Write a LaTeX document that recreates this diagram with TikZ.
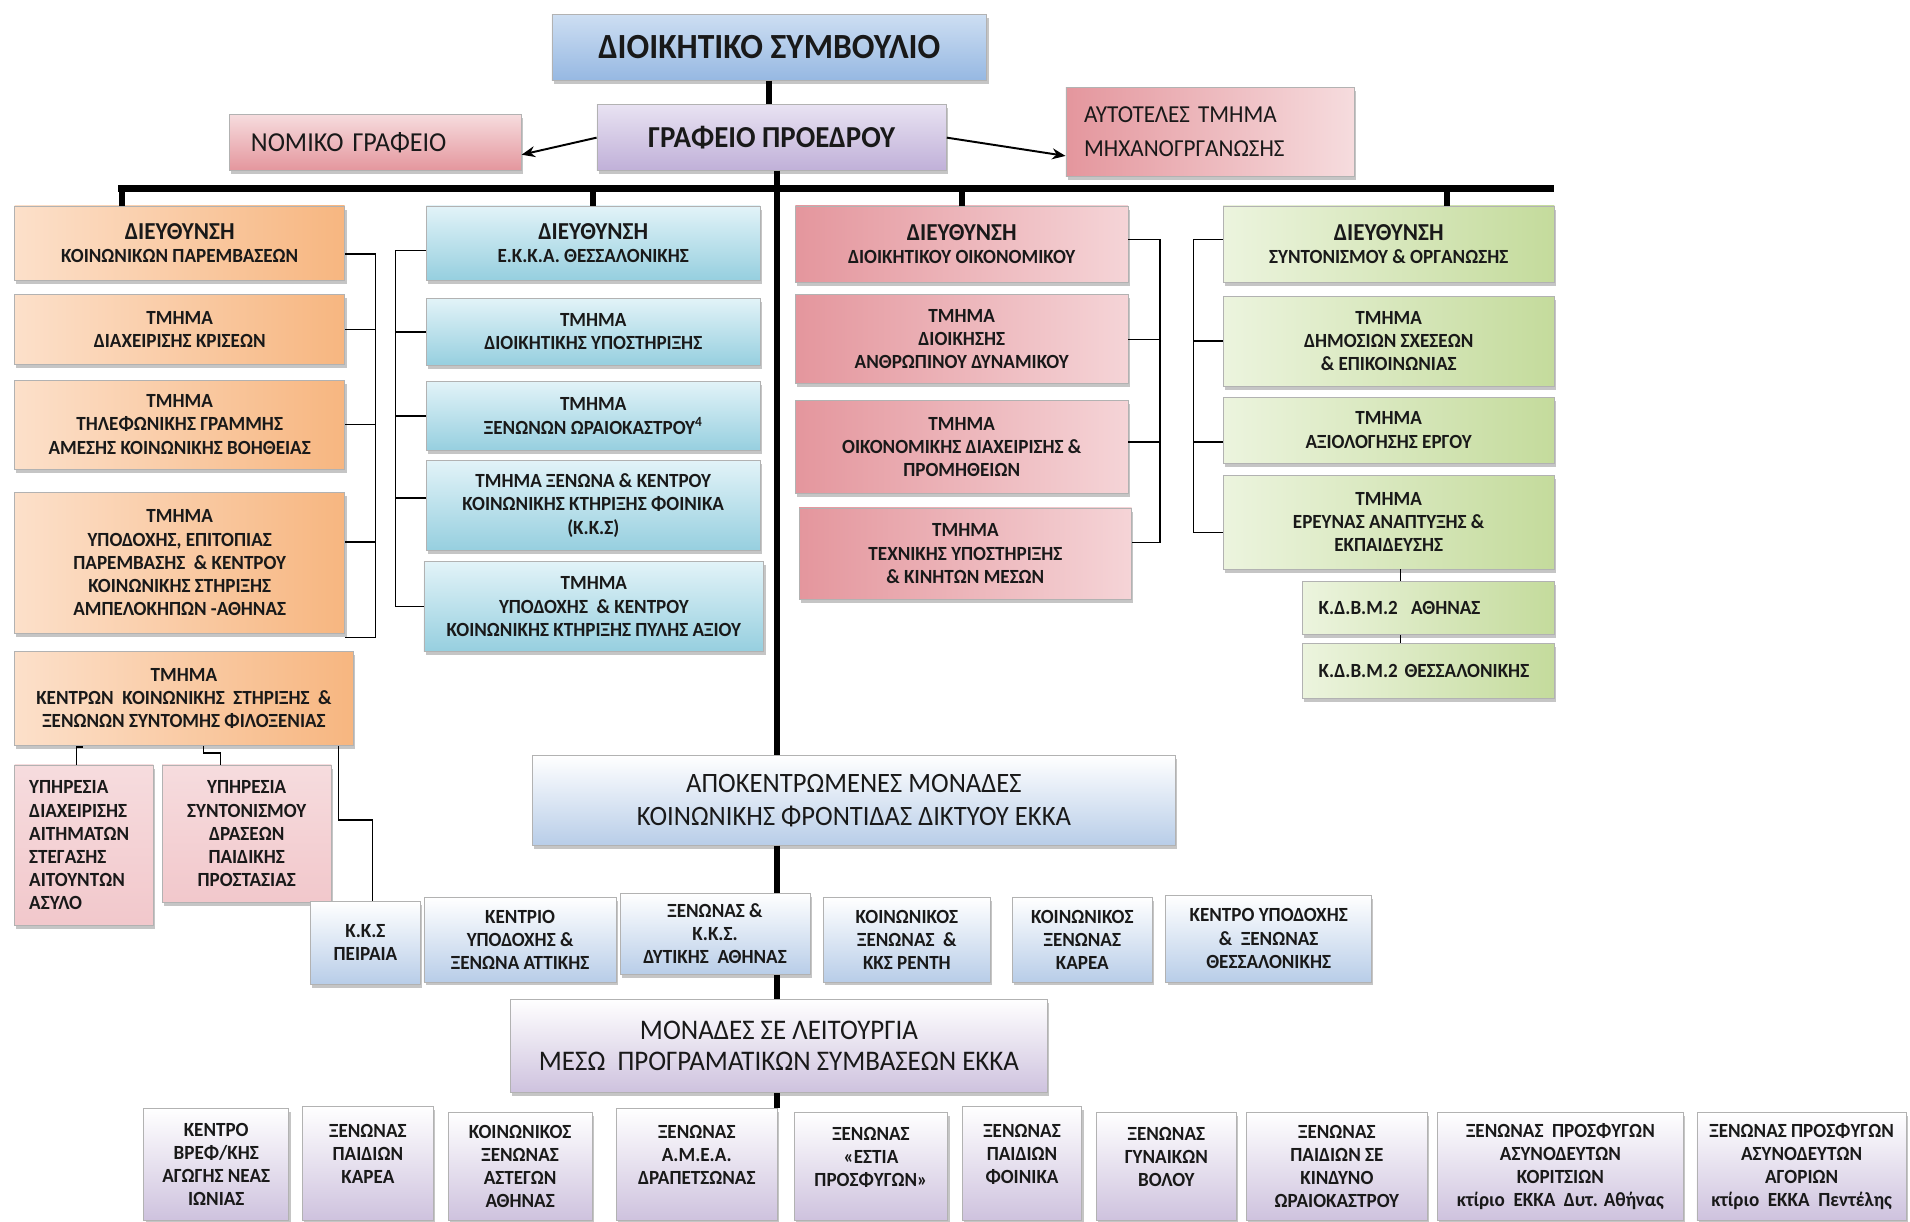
\documentclass[tikz,border=0pt]{standalone}
\usepackage{fontspec}
\setmainfont{Carlito}[FakeStretch=0.95]
\usetikzlibrary{shapes,shadows,arrows.meta}
\definecolor{ekka_sky}{RGB}{205,222,242}
\definecolor{ekka_steel}{RGB}{150,184,226}
\definecolor{ekka_mist}{RGB}{232,226,242}
\definecolor{ekka_lilac}{RGB}{192,176,216}
\definecolor{ekka_petal}{RGB}{246,220,222}
\definecolor{ekka_rose}{RGB}{228,150,157}
\definecolor{ekka_peach}{RGB}{252,224,202}
\definecolor{ekka_orange}{RGB}{247,182,128}
\definecolor{ekka_ice}{RGB}{226,243,248}
\definecolor{ekka_cyan}{RGB}{150,207,223}
\definecolor{ekka_blush}{RGB}{245,212,215}
\definecolor{ekka_mint}{RGB}{236,244,222}
\definecolor{ekka_olive}{RGB}{196,219,156}
\definecolor{ekka_pale}{RGB}{184,205,232}
\definecolor{ekka_heather}{RGB}{206,194,222}
\tikzstyle{orgbox}=[rectangle,draw=black!30,line width=0.5pt,align=center,inner sep=2pt,
  text=black!90,font=\bfseries\fontsize{16.5}{19}\selectfont,
  drop shadow={shadow xshift=1.5pt,shadow yshift=-3pt,fill=black!45}]
\tikzstyle{ob}=[orgbox,left color=ekka_peach,right color=ekka_orange,minimum width=271pt]
\tikzstyle{bb}=[orgbox,top color=ekka_ice,bottom color=ekka_cyan,minimum width=274pt]
\tikzstyle{rb}=[orgbox,left color=ekka_rose,right color=ekka_blush,minimum width=273pt]
\tikzstyle{gb}=[orgbox,left color=ekka_mint,right color=ekka_olive,minimum width=272pt]
\tikzstyle{pb}=[orgbox,top color=ekka_petal,bottom color=ekka_blush!80!ekka_rose]
\tikzstyle{sb}=[orgbox,top color=white,bottom color=ekka_pale]
\tikzstyle{lb}=[orgbox,top color=white,bottom color=ekka_heather]
\tikzstyle{lbtop}=[lb,text depth=16pt]
\tikzstyle{trunk}=[line width=5pt]
\tikzstyle{link}=[line width=1.2pt]
\tikzstyle{arr}=[line width=1.6pt,-{Stealth[length=11pt,width=9pt]}]
\newcommand{\dirline}[1]{{\fontsize{20}{22}\selectfont #1}}

\begin{document}
\begin{tikzpicture}[x=1pt,y=-1pt]
    \useasboundingbox (0,0) rectangle (1568,1003);
    % top of the chart
    \node [style=orgbox,top color=ekka_sky,bottom color=ekka_steel,minimum width=357pt,minimum height=54pt,
      font=\bfseries\fontsize{29}{32}\selectfont] (board) at (631.5,39) {ΔΙΟΙΚΗΤΙΚΟ ΣΥΜΒΟΥΛΙΟ};
    \node [style=orgbox,top color=ekka_mist,bottom color=ekka_lilac,minimum width=287pt,minimum height=54pt,
      font=\bfseries\fontsize{25}{28}\selectfont] (pres) at (633.5,113) {ΓΡΑΦΕΙΟ ΠΡΟΕΔΡΟΥ};
    \node [style=orgbox,top color=ekka_petal,bottom color=ekka_rose,minimum height=46pt,text width=204pt,
      inner xsep=18pt,align=left,font=\fontsize{22.5}{26}\selectfont] (nom) at (308,117) {ΝΟΜΙΚΟ ΓΡΑΦΕΙΟ};
    \node [style=orgbox,left color=ekka_rose,right color=ekka_petal,minimum height=73pt,text width=207pt,
      inner xsep=15pt,align=left,font=\fontsize{20}{28}\selectfont] (mhx) at (993.5,108)
      {ΑΥΤΟΤΕΛΕΣ ΤΜΗΜΑ\\ΜΗΧΑΝΟΓΡΓΑΝΩΣΗΣ};

    % directorate of social interventions
    \node [style=ob,minimum height=61pt] (kp) at (147.5,199.5)
      {\dirline{ΔΙΕΥΘΥΝΣΗ}\\ΚΟΙΝΩΝΙΚΩΝ ΠΑΡΕΜΒΑΣΕΩΝ};
    \node [style=ob,minimum height=57pt] (krisi) at (147.5,270.5) {ΤΜΗΜΑ\\ΔΙΑΧΕΙΡΙΣΗΣ ΚΡΙΣΕΩΝ};
    \node [style=ob,minimum height=73pt] (tilef) at (147.5,348.5)
      {ΤΜΗΜΑ\\ΤΗΛΕΦΩΝΙΚΗΣ ΓΡΑΜΜΗΣ\\ΑΜΕΣΗΣ ΚΟΙΝΩΝΙΚΗΣ ΒΟΗΘΕΙΑΣ};
    \node [style=ob,minimum height=116pt] (ampel) at (147.5,462)
      {ΤΜΗΜΑ\\ΥΠΟΔΟΧΗΣ, ΕΠΙΤΟΠΙΑΣ\\ΠΑΡΕΜΒΑΣΗΣ\ \ \&\ ΚΕΝΤΡΟΥ\\ΚΟΙΝΩΝΙΚΗΣ ΣΤΗΡΙΞΗΣ\\ΑΜΠΕΛΟΚΗΠΩΝ -ΑΘΗΝΑΣ};
    \node [style=ob,minimum width=278pt,minimum height=77pt] (kentr) at (151,573.5)
      {ΤΜΗΜΑ\\ΚΕΝΤΡΩΝ\ \ ΚΟΙΝΩΝΙΚΗΣ\ \ ΣΤΗΡΙΞΗΣ\ \ \&\\ΞΕΝΩΝΩΝ ΣΥΝΤΟΜΗΣ ΦΙΛΟΞΕΝΙΑΣ};
    \node [style=pb,minimum width=114pt,minimum height=132pt,text width=90pt,inner xsep=12pt,align=left] (ypA) at (69,694)
      {ΥΠΗΡΕΣΙΑ\\ΔΙΑΧΕΙΡΙΣΗΣ\\ΑΙΤΗΜΑΤΩΝ\\ΣΤΕΓΑΣΗΣ\\ΑΙΤΟΥΝΤΩΝ\\ΑΣΥΛΟ};
    \node [style=pb,minimum width=139pt,minimum height=113pt] (ypB) at (202.5,684.5)
      {ΥΠΗΡΕΣΙΑ\\ΣΥΝΤΟΝΙΣΜΟΥ\\ΔΡΑΣΕΩΝ\\ΠΑΙΔΙΚΗΣ\\ΠΡΟΣΤΑΣΙΑΣ};

    % directorate of thessaloniki
    \node [style=bb,minimum height=61pt] (ekka) at (487,199.5)
      {\dirline{ΔΙΕΥΘΥΝΣΗ}\\Ε.Κ.Κ.Α. ΘΕΣΣΑΛΟΝΙΚΗΣ};
    \node [style=bb,minimum height=55pt] (dyp) at (487,272.5) {ΤΜΗΜΑ\\ΔΙΟΙΚΗΤΙΚΗΣ ΥΠΟΣΤΗΡΙΞΗΣ};
    \node [style=bb,minimum height=57pt] (wraio) at (487,341.5) {ΤΜΗΜΑ\\ΞΕΝΩΝΩΝ ΩΡΑΙΟΚΑΣΤΡΟΥ\textsuperscript{4}};
    \node [style=bb,minimum height=74pt] (foin) at (487,415)
      {ΤΜΗΜΑ ΞΕΝΩΝΑ \& ΚΕΝΤΡΟΥ\\ΚΟΙΝΩΝΙΚΗΣ ΚΤΗΡΙΞΗΣ ΦΟΙΝΙΚΑ\\(Κ.Κ.Σ)};
    \node [style=bb,minimum width=279pt,minimum height=74pt] (pyli) at (487.5,498)
      {ΤΜΗΜΑ\\ΥΠΟΔΟΧΗΣ\ \ \& ΚΕΝΤΡΟΥ\\ΚΟΙΝΩΝΙΚΗΣ ΚΤΗΡΙΞΗΣ ΠΥΛΗΣ ΑΞΙΟΥ};

    % directorate of administration and finance
    \node [style=rb,minimum height=63pt] (dioik) at (789.5,200.5)
      {\dirline{ΔΙΕΥΘΥΝΣΗ}\\ΔΙΟΙΚΗΤΙΚΟΥ ΟΙΚΟΝΟΜΙΚΟΥ};
    \node [style=rb,minimum height=73pt] (anthr) at (789.5,278.5) {ΤΜΗΜΑ\\ΔΙΟΙΚΗΣΗΣ\\ΑΝΘΡΩΠΙΝΟΥ ΔΥΝΑΜΙΚΟΥ};
    \node [style=rb,minimum height=76pt] (oik) at (789.5,367) {ΤΜΗΜΑ\\ΟΙΚΟΝΟΜΙΚΗΣ ΔΙΑΧΕΙΡΙΣΗΣ \&\\ΠΡΟΜΗΘΕΙΩΝ};
    \node [style=rb,minimum height=75pt] (tech) at (792.5,454.5) {ΤΜΗΜΑ\\ΤΕΧΝΙΚΗΣ ΥΠΟΣΤΗΡΙΞΗΣ\\\& ΚΙΝΗΤΩΝ ΜΕΣΩΝ};

    % directorate of coordination
    \node [style=gb,minimum height=63pt] (synt) at (1140,200.5)
      {\dirline{ΔΙΕΥΘΥΝΣΗ}\\ΣΥΝΤΟΝΙΣΜΟΥ \& ΟΡΓΑΝΩΣΗΣ};
    \node [style=gb,minimum height=74pt] (dimos) at (1140,280) {ΤΜΗΜΑ\\ΔΗΜΟΣΙΩΝ ΣΧΕΣΕΩΝ\\\& ΕΠΙΚΟΙΝΩΝΙΑΣ};
    \node [style=gb,minimum height=54pt] (axiol) at (1140,353) {ΤΜΗΜΑ\\ΑΞΙΟΛΟΓΗΣΗΣ ΕΡΓΟΥ};
    \node [style=gb,minimum height=77pt] (erev) at (1140,428.5) {ΤΜΗΜΑ\\ΕΡΕΥΝΑΣ ΑΝΑΠΤΥΞΗΣ \&\\ΕΚΠΑΙΔΕΥΣΗΣ};
    \node [style=gb,minimum width=207pt,minimum height=44pt,text width=180pt,inner xsep=13pt,align=left] (kdb1)
      at (1172.5,499) {Κ.Δ.Β.Μ.2\ \ ΑΘΗΝΑΣ};
    \node [style=gb,minimum width=207pt,minimum height=45pt,text width=180pt,inner xsep=13pt,align=left] (kdb2)
      at (1172.5,550.5) {Κ.Δ.Β.Μ.2 ΘΕΣΣΑΛΟΝΙΚΗΣ};

    % decentralised units
    \node [style=sb,minimum width=528pt,minimum height=74pt,font=\fontsize{23}{27}\selectfont] (apok) at (701,657)
      {ΑΠΟΚΕΝΤΡΩΜΕΝΕΣ ΜΟΝΑΔΕΣ\\ΚΟΙΝΩΝΙΚΗΣ ΦΡΟΝΤΙΔΑΣ ΔΙΚΤΥΟΥ ΕΚΚΑ};
    \node [style=sb,minimum width=90pt,minimum height=68pt] (peir) at (300,774) {Κ.Κ.Σ\\ΠΕΙΡΑΙΑ};
    \node [style=sb,minimum width=158pt,minimum height=69pt] (att) at (427,771.5) {ΚΕΝΤΡΙΟ\\ΥΠΟΔΟΧΗΣ \&\\ΞΕΝΩΝΑ ΑΤΤΙΚΗΣ};
    \node [style=sb,minimum width=156pt,minimum height=67pt] (dyt) at (587,766.5) {ΞΕΝΩΝΑΣ \&\\Κ.Κ.Σ.\\ΔΥΤΙΚΗΣ\ \ ΑΘΗΝΑΣ};
    \node [style=sb,minimum width=137pt,minimum height=69pt] (rent) at (744.5,771.5) {ΚΟΙΝΩΝΙΚΟΣ\\ΞΕΝΩΝΑΣ\ \ \&\\ΚΚΣ ΡΕΝΤΗ};
    \node [style=sb,minimum width=115pt,minimum height=69pt] (kar) at (888.5,771.5) {ΚΟΙΝΩΝΙΚΟΣ\\ΞΕΝΩΝΑΣ\\ΚΑΡΕΑ};
    \node [style=sb,minimum width=169pt,minimum height=71pt] (thes) at (1041.5,770.5) {ΚΕΝΤΡΟ ΥΠΟΔΟΧΗΣ\\\&\ \ ΞΕΝΩΝΑΣ\\ΘΕΣΣΑΛΟΝΙΚΗΣ};

    % units under programme contracts
    \node [style=lb,minimum width=441pt,minimum height=77pt,font=\fontsize{23.3}{26}\selectfont] (contr) at (639.5,858.5)
      {ΜΟΝΑΔΕΣ ΣΕ ΛΕΙΤΟΥΡΓΙΑ\\ΜΕΣΩ\ \ ΠΡΟΓΡΑΜΑΤΙΚΩΝ ΣΥΜΒΑΣΕΩΝ ΕΚΚΑ};
    \node [style=lb,minimum width=119pt,minimum height=92pt] (m1) at (177.5,956) {ΚΕΝΤΡΟ\\ΒΡΕΦ/ΚΗΣ\\ΑΓΩΓΗΣ ΝΕΑΣ\\ΙΩΝΙΑΣ};
    \node [style=lbtop,minimum width=108pt,minimum height=94pt] (m2) at (302,955) {ΞΕΝΩΝΑΣ\\ΠΑΙΔΙΩΝ\\ΚΑΡΕΑ};
    \node [style=lb,minimum width=118pt,minimum height=89pt] (m3) at (427,957.5) {ΚΟΙΝΩΝΙΚΟΣ\\ΞΕΝΩΝΑΣ\\ΑΣΤΕΓΩΝ\\ΑΘΗΝΑΣ};
    \node [style=lbtop,minimum width=132pt,minimum height=92pt] (m4) at (572,956) {ΞΕΝΩΝΑΣ\\Α.Μ.Ε.Α.\\ΔΡΑΠΕΤΣΩΝΑΣ};
    \node [style=lbtop,minimum width=126pt,minimum height=89pt] (m5) at (715,957.5) {ΞΕΝΩΝΑΣ\\«ΕΣΤΙΑ\\ΠΡΟΣΦΥΓΩΝ»};
    \node [style=lbtop,minimum width=98pt,minimum height=94pt] (m6) at (839,955) {ΞΕΝΩΝΑΣ\\ΠΑΙΔΙΩΝ\\ΦΟΙΝΙΚΑ};
    \node [style=lbtop,minimum width=115pt,minimum height=89pt] (m7) at (957.5,957.5) {ΞΕΝΩΝΑΣ\\ΓΥΝΑΙΚΩΝ\\ΒΟΛΟΥ};
    \node [style=lb,minimum width=149pt,minimum height=89pt] (m8) at (1097.5,957.5) {ΞΕΝΩΝΑΣ\\ΠΑΙΔΙΩΝ ΣΕ\\ΚΙΝΔΥΝΟ\\ΩΡΑΙΟΚΑΣΤΡΟΥ};
    \node [style=lb,minimum width=202pt,minimum height=89pt] (m9) at (1281,957.5)
      {ΞΕΝΩΝΑΣ\ \ ΠΡΟΣΦΥΓΩΝ\\ΑΣΥΝΟΔΕΥΤΩΝ\\ΚΟΡΙΤΣΙΩΝ\\κτίριο\ \ ΕΚΚΑ\ \ Δυτ. Αθήνας};
    \node [style=lb,minimum width=172pt,minimum height=89pt] (m10) at (1479,957.5)
      {ΞΕΝΩΝΑΣ ΠΡΟΣΦΥΓΩΝ\\ΑΣΥΝΟΔΕΥΤΩΝ\\ΑΓΟΡΙΩΝ\\κτίριο\ \ ΕΚΚΑ\ \ Πεντέλης};

    % main lines
    \coordinate (busl) at (100,155);
    \coordinate (busr) at (1273,155);
    \coordinate (gdrop) at (1188,155);
    \coordinate (tr) at (638,140);
    \draw [style=trunk] (board.south) to (board.south |- pres.north);
    \draw [line width=6pt,line cap=rect] (busl) to (busr);
    \draw [style=trunk] (busl) to (busl |- kp.north);
    \draw [style=trunk] (busl -| ekka.north) to (ekka.north);
    \draw [style=trunk] (busl -| dioik.north) to (dioik.north);
    \draw [style=trunk] (gdrop) to (gdrop |- synt.north);
    \draw [style=trunk] (tr) to (tr |- apok.north);
    \draw [style=trunk] (tr |- apok.south) to (tr |- dyt.north);
    \draw [style=trunk] (tr |- dyt.south) to (tr |- contr.north);
    \draw [style=trunk] (tr |- contr.south) to (tr |- m4.north);
    \draw [style=arr] (pres.west) to ([yshift=-10pt]nom.east);
    \draw [style=arr] (pres.east) to ([yshift=-20pt]mhx.west);

    % column links
    \draw [style=link] ([yshift=-9pt]kp.east) -- ++(25,0) |- ([yshift=-3pt]ampel.south east);
    \draw [style=link] (krisi.east) -- ++(25,0);
    \draw [style=link] (tilef.east) -- ++(25,0);
    \draw [style=link] ([yshift=17pt]ampel.east) -- ++(25,0);
    \draw [style=link] ([yshift=-6pt]ekka.west) -- ++(-25,0) |- (pyli.west);
    \draw [style=link] (dyp.west) -- ++(-25,0);
    \draw [style=link] (wraio.west) -- ++(-25,0);
    \draw [style=link] ([yshift=6pt]foin.west) -- ++(-25,0);
    \draw [style=link] ([yshift=4pt]dioik.east) -- ++(26,0) |- ([yshift=9pt]tech.east);
    \draw [style=link] (anthr.east) -- ++(26,0);
    \draw [style=link] ([yshift=4pt]oik.east) -- ++(26,0);
    \draw [style=link] ([yshift=4pt]synt.west) -- ++(-24,0) |- ([yshift=-8.5pt]erev.west);
    \draw [style=link] (dimos.west) -- ++(-24,0);
    \draw [style=link] ([yshift=-10pt]axiol.west) -- ++(-24,0);
    \coordinate (kd) at (1150,0);
    \draw [line width=1pt] (erev.south -| kd) to (kdb1.north -| kd);
    \draw [line width=1pt] (kdb1.south -| kd) to (kdb2.north -| kd);

    % links below the short stay section
    \coordinate (k1) at (63,0);
    \coordinate (k2) at (167,0);
    \coordinate (k3) at (278,0);
    \draw [style=link] (kentr.south -| k1) ++(5,1) -- ++(-5,0) -- (ypA.north -| k1);
    \draw [style=link] (kentr.south -| k2) -- ++(0,6) -- ++(14,0) -- (ypB.north -| 181,0);
    \draw [style=link] (kentr.south -| k3) -- ++(0,61) -| ([xshift=6pt]peir.north);
\end{tikzpicture}
\end{document}
